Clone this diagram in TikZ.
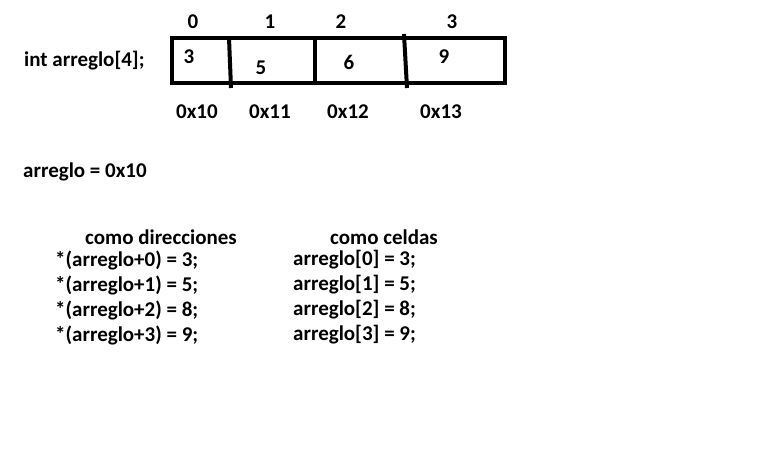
\documentclass[tikz,border=0pt]{standalone}
\usepackage{fontspec}
\setmainfont{Carlito}
\tikzset{
  texto/.style={font=\fontsize{21}{25}\selectfont\bfseries, inner sep=0pt, anchor=west},
  numero/.style={texto, anchor=center},
  borde/.style={line width=4pt, color=black}
}

\begin{document}
\begin{tikzpicture}[x=1pt, y=-1pt]
    \useasboundingbox (0,0) rectangle (763,454);

    % el arreglo en memoria
    \draw[borde] (172,38) rectangle (505,83);
    \draw[borde] (229,38) -- (231,88);
    \draw[borde] (315,38) -- (315,83);
    \draw[borde] (404,34) -- (407,88);

    \node[texto] (decl) at (24,61) {int arreglo[4];};

    \node[numero] (i0) at (193,22) {0};
    \node[numero] (i1) at (270,22) {1};
    \node[numero] (i2) at (341,22) {2};
    \node[numero] (i3) at (452,22) {3};

    \node[numero] (v0) at (189,57) {3};
    \node[numero] (v1) at (261,68) {5};
    \node[numero] (v2) at (349,62) {6};
    \node[numero] (v3) at (444,57) {9};

    \node[numero] (d0) at (197,112) {0x10};
    \node[numero] (d1) at (270,112) {0x11};
    \node[numero] (d2) at (348,112) {0x12};
    \node[numero] (d3) at (441,112) {0x13};

    \node[texto] (base) at (23,172) {arreglo = 0x10};

    % las dos formas de acceso
    \node[numero] (tdir) at (161,237) {como direcciones};
    \node[texto] (p0) at (55,260) {*(arreglo+0) = 3;};
    \node[texto] (p1) at (55,285) {*(arreglo+1) = 5;};
    \node[texto] (p2) at (55,310) {*(arreglo+2) = 8;};
    \node[texto] (p3) at (55,335) {*(arreglo+3) = 9;};

    \node[numero] (tcel) at (384,237) {como celdas};
    \node[texto] (c0) at (293,260) {arreglo[0] = 3;};
    \node[texto] (c1) at (293,285) {arreglo[1] = 5;};
    \node[texto] (c2) at (293,310) {arreglo[2] = 8;};
    \node[texto] (c3) at (293,335) {arreglo[3] = 9;};
  \end{tikzpicture}
\end{document}
